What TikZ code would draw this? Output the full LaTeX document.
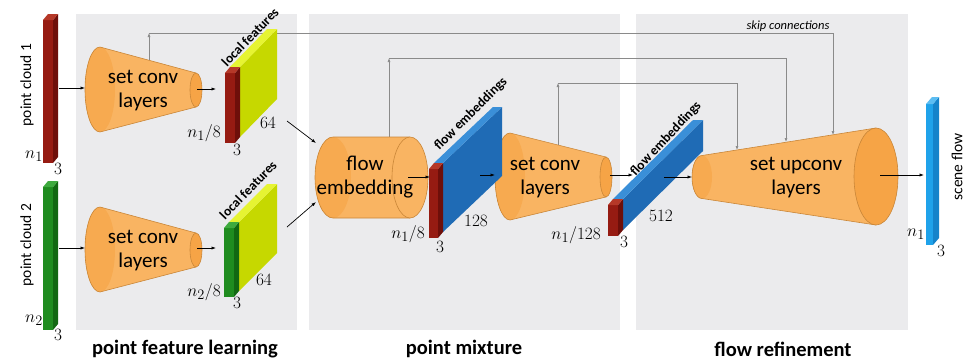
\documentclass[tikz,border=0pt]{standalone}
\usepackage{fontspec}
\setmainfont{Carlito}
\usetikzlibrary{arrows.meta}
\definecolor{panel}{HTML}{EBEBED}
\definecolor{skipgray}{HTML}{8A8A8A}
\definecolor{orgBody}{HTML}{F9B462}
\definecolor{orgDark}{HTML}{F6A446}
\definecolor{orgShade}{HTML}{F7AA50}
\definecolor{orgLine}{HTML}{C98638}
\definecolor{redF}{HTML}{961B12}
\definecolor{redS}{HTML}{6E0F0A}
\definecolor{redT}{HTML}{B53828}
\definecolor{grnF}{HTML}{1F8C1F}
\definecolor{grnS}{HTML}{126812}
\definecolor{grnT}{HTML}{3EAA3E}
\definecolor{ylwS}{HTML}{C6D800}
\definecolor{ylwT}{HTML}{E6F432}
\definecolor{bluS}{HTML}{1F6BB5}
\definecolor{bluT}{HTML}{3A8FD8}
\definecolor{sfF}{HTML}{1FA2EA}
\definecolor{sfS}{HTML}{1583CA}
\definecolor{sfT}{HTML}{5CBDF2}
% bar: x, y, w, h, dx, dy, front, side, top
\newcommand{\pcbar}[9]{%
  \fill[#7] (#1,#2) rectangle ++(#3,#4);
  \fill[#8] (#1+#3,#2) -- ++(#5,#6) -- ++(0,#4) -- (#1+#3,#2+#4) -- cycle;
  \fill[#9] (#1,#2) -- ++(#5,#6) -- ++(#3,0) -- (#1+#3,#2) -- cycle;
}
% feature block: x, y, w, h, body dx, body dy, front prefix, body prefix
\newcommand{\fblock}[8]{%
  \fill[#8S] (#1+#3+5,#2-6) -- (#1+#3+5+#5,#2-6+#6) -- (#1+#3+5+#5,#2-6+#6+#4) -- (#1+#3+5,#2-6+#4) -- cycle;
  \fill[#8T] (#1+5,#2-6) -- (#1+5+#5,#2-6+#6) -- (#1+#3+5+#5,#2-6+#6) -- (#1+#3+5,#2-6) -- cycle;
  \fill[#7F] (#1,#2) rectangle ++(#3,#4);
  \fill[#7S] (#1+#3,#2) -- ++(5,-6) -- ++(0,#4) -- (#1+#3,#2+#4) -- cycle;
  \fill[#7T] (#1,#2) -- ++(5,-6) -- ++(#3,0) -- (#1+#3,#2) -- cycle;
}
% tube: left cx, cy, rx, ry, right cx, cy, rx, ry, right fill
\newcommand{\tube}[9]{%
  \fill[orgBody] (#1,#2-#4) -- (#5,#6-#8) -- (#5,#6+#8) -- (#1,#2+#4) arc[start angle=90,end angle=270,x radius=#3,y radius=#4] -- cycle;
  \fill[orgShade] (#1,#2) ellipse[x radius=#3,y radius=#4];
  \draw[orgLine,line width=0.6pt] (#5,#6-#8) -- (#1,#2-#4) arc[start angle=270,end angle=90,x radius=#3,y radius=#4] -- (#5,#6+#8);
  \filldraw[fill=#9,draw=orgLine,line width=0.6pt] (#5,#6) ellipse[x radius=#7,y radius=#8];
}
\begin{document}
\begin{tikzpicture}[x=1pt,y=-1pt,
  conn/.style={line width=0.7pt,-{Latex[length=4.5pt,width=3.2pt]}},
  skipline/.style={draw=skipgray,line width=0.6pt},
  skiptip/.style={skipline,-{Latex[length=4pt,width=3pt]}},
  inner/.style={font=\fontsize{21}{24}\selectfont,align=center,inner sep=0pt},
  dimlab/.style={font=\fontsize{19}{22}\selectfont,inner sep=0pt},
  sidelab/.style={font=\fontsize{15.5}{18}\selectfont,rotate=90,inner sep=0pt},
  featlab/.style={font=\fontsize{13.5}{15}\selectfont\bfseries,inner sep=0pt},
  title/.style={font=\fontsize{20.5}{24}\selectfont\bfseries,inner sep=0pt}
]
\useasboundingbox[fill=white] (0,0) rectangle (977,362);
% panels
\fill[panel] (76,14) rectangle (297,330);
\fill[panel] (309,14) rectangle (620,330);
\fill[panel] (636,14) rectangle (908,330);

% skip connections
\coordinate (s1a) at (149,60); \coordinate (s1b) at (149,33);
\coordinate (s1c) at (833,33); \coordinate (s1d) at (833,135);
\coordinate (s2a) at (389,137); \coordinate (s2b) at (389,58);
\coordinate (s2c) at (786,58); \coordinate (s2d) at (786,142);
\coordinate (s3a) at (558,145); \coordinate (s3b) at (558,83);
\coordinate (s3c) at (737,83); \coordinate (s3d) at (737,150);
\draw[skiptip] (s1a) -- (s1b);
\draw[skiptip] (s1b) -- (s1c) -- (s1d);
\draw[skiptip] (s2a) -- (s2b);
\draw[skiptip] (s2b) -- (s2c) -- (s2d);
\draw[skiptip] (s3a) -- (s3b);
\draw[skiptip] (s3b) -- (s3c) -- (s3d);
\node[font=\fontsize{12.5}{14}\selectfont\itshape,inner sep=0pt] (skiplab) at (788,26) {skip connections};

% point clouds
\pcbar{43}{20}{10}{143}{5}{-6}{redF}{redS}{redT}
\pcbar{43}{187}{10}{143}{5}{-6}{grnF}{grnS}{grnT}
\pcbar{926}{104}{7}{141}{6}{-7}{sfF}{sfS}{sfT}

% cones and cylinder
\tube{100}{89.5}{15}{42.5}{196}{90}{6}{17}{orgDark}
\tube{100}{249.5}{15}{42.5}{196}{250}{6}{17}{orgDark}
\tube{333}{177.5}{18}{40.5}{410}{177.5}{18}{40.5}{orgBody}
\tube{510}{176.5}{15}{43.5}{606}{177}{6}{20}{orgDark}
\tube{702}{177}{10}{21.5}{876}{176.5}{22}{48.5}{orgDark}

% feature blocks
\fblock{225}{73}{10}{70}{37}{-38}{red}{ylw}
\fblock{224}{228}{10}{69}{38}{-38}{grn}{ylw}
\fblock{429}{169}{9}{69}{59}{-56}{red}{blu}
\fblock{608}{205}{10}{31}{80}{-79}{red}{blu}

% arrows
\coordinate (a1s) at (59,88); \coordinate (a1e) at (85,88);
\coordinate (a2s) at (59,248); \coordinate (a2e) at (85,248);
\coordinate (a3s) at (197,89); \coordinate (a3e) at (216,89);
\coordinate (a4s) at (197,248); \coordinate (a4e) at (216,248);
\coordinate (a5s) at (287,121); \coordinate (a5e) at (316,143);
\coordinate (a6s) at (287,227); \coordinate (a6e) at (316,202);
\coordinate (a7s) at (408,177); \coordinate (a7e) at (430,177);
\coordinate (a8s) at (480,175); \coordinate (a8e) at (495,175);
\coordinate (a9s) at (610,175); \coordinate (a9e) at (633,175);
\coordinate (a10s) at (664,177); \coordinate (a10e) at (692,177);
\coordinate (a11s) at (880,175); \coordinate (a11e) at (924,175);
\foreach \i in {1,...,11} {\draw[conn] (a\i s) -- (a\i e);}

% inner texts
\node[inner] (t1) at (143,91) {set conv\\layers};
\node[inner] (t2) at (143,251) {set conv\\layers};
\node[inner] (t3) at (365,177) {flow\\embedding};
\node[inner] (t4) at (545,178) {set conv\\layers};
\node[inner] (t5) at (796,178) {set upconv\\layers};

% side labels
\node[sidelab] (lpc1) at (27,85) {point cloud 1};
\node[sidelab] (lpc2) at (27,245) {point cloud 2};
\node[sidelab] (lsf) at (957,167) {scene flow};

% feature labels
\node[featlab,rotate=46] (lf1) at (250,37) {local features};
\node[featlab,rotate=46] (lf2) at (248,190) {local features};
\node[featlab,rotate=45] (lfe1) at (471,114) {flow embeddings};
\node[featlab,rotate=47] (lfe2) at (666,139) {flow embeddings};

% dimension labels
\node[dimlab] (d1) at (34,156) {$n_1$};
\node[dimlab] (d2) at (58,169) {$3$};
\node[dimlab] (d3) at (34,320) {$n_2$};
\node[dimlab] (d4) at (58,335) {$3$};
\node[dimlab,anchor=east] (d5) at (221,133) {$n_1/8$};
\node[dimlab] (d6) at (237,150) {$3$};
\node[dimlab] (d7) at (268,123) {$64$};
\node[dimlab,anchor=east] (d8) at (221,292) {$n_2/8$};
\node[dimlab] (d9) at (237,303) {$3$};
\node[dimlab] (d10) at (264,280) {$64$};
\node[dimlab,anchor=east] (d11) at (425,234) {$n_1/8$};
\node[dimlab] (d12) at (440,247) {$3$};
\node[dimlab] (d13) at (476,221) {$128$};
\node[dimlab,anchor=east] (d14) at (601,235) {$n_1/128$};
\node[dimlab] (d15) at (624,242) {$3$};
\node[dimlab] (d16) at (661,216) {$512$};
\node[dimlab] (d17) at (916,234) {$n_1$};
\node[dimlab] (d18) at (941,251) {$3$};

% titles
\node[title] (ti1) at (185,349) {point feature learning};
\node[title] (ti2) at (464,349) {point mixture};
\node[title] (ti3) at (783,349) {flow refinement};
\end{tikzpicture}
\end{document}
